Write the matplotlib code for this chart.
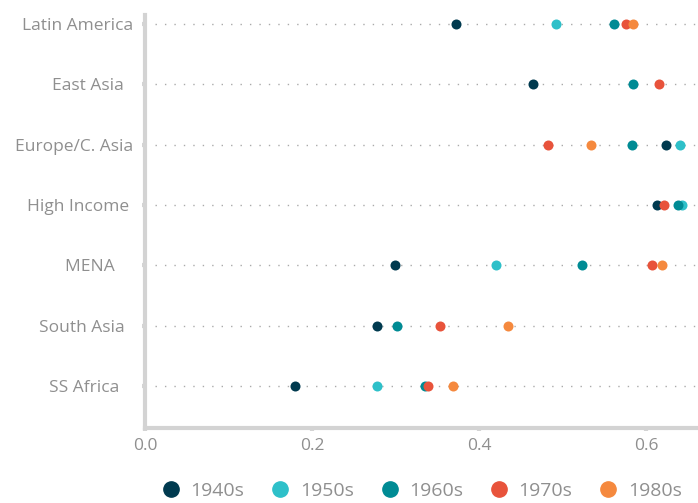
import numpy as np
import matplotlib.pyplot as plt
from matplotlib.lines import Line2D

plt.rcParams['font.family'] = ['Open Sans', 'DejaVu Sans']

regions = ['Latin America', 'East Asia  ', 'Europe/C. Asia', 'High Income ',
           'MENA    ', 'South Asia  ', 'SS Africa   ']
decades = ['1940s', '1950s', '1960s', '1970s', '1980s']
colors = ['#003a4f', '#2ec0c9', '#008b94', '#e8533b', '#f5893e']

# values per decade, one per region (nan = not shown)
v1940 = [0.372, 0.464, 0.624, 0.613, 0.299, 0.278, 0.180]
v1950 = [0.492, np.nan, 0.641, 0.643, 0.420, np.nan, 0.278]
v1960 = [0.562, 0.584, 0.583, 0.638, 0.523, 0.302, 0.335]
v1970 = [0.576, 0.615, 0.482, 0.622, 0.607, 0.353, 0.339]
v1980 = [0.584, np.nan, 0.534, np.nan, 0.619, 0.435, 0.369]
series = [v1940, v1950, v1960, v1970, v1980]

fig = plt.figure(figsize=(6.98, 5.03), dpi=100)
ax = fig.add_axes([145/698, 1 - 428/503, 1 - 145/698 + 0.001, (428 - 15)/503])

y = np.arange(len(regions))
for yi in y:
    ax.plot([0.012, 0.7], [yi, yi], color='#aaaaaa', lw=1.0,
            ls=(0, (1, 5.8)), zorder=1)

for vals, c, lab in zip(series, colors, decades):
    ax.scatter(vals, y, s=52, color=c, zorder=3, linewidths=0, label=lab)

ax.set_xlim(0, 0.663)
ax.set_ylim(6.70, -0.15)
ax.set_yticks(y)
ax.set_yticklabels(regions)
ax.set_xticks([0.0, 0.2, 0.4, 0.6])
ax.set_xticklabels(['0.0', '0.2', '0.4', '0.6'])

for s in ['top', 'right']:
    ax.spines[s].set_visible(False)
for s in ['left', 'bottom']:
    ax.spines[s].set_color('#d3d3d3')
    ax.spines[s].set_linewidth(3)

ax.tick_params(axis='y', colors='#d3d3d3', length=2.5, width=3, pad=6,
               labelcolor='#8f8f8f', labelsize=12.5)
ax.tick_params(axis='x', colors='#d3d3d3', length=2.5, width=3, pad=5,
               labelcolor='#8f8f8f', labelsize=12.5)

handles = [Line2D([], [], marker='o', ls='none', color=c, markersize=11)
           for c in colors]
fig.legend(handles, decades, loc='lower center', bbox_to_anchor=(0.597, -0.029),
           ncol=5, frameon=False, fontsize=14, handletextpad=0.0,
           columnspacing=0.85, labelcolor='#8f8f8f')

fig.savefig('out.png', dpi=100)
